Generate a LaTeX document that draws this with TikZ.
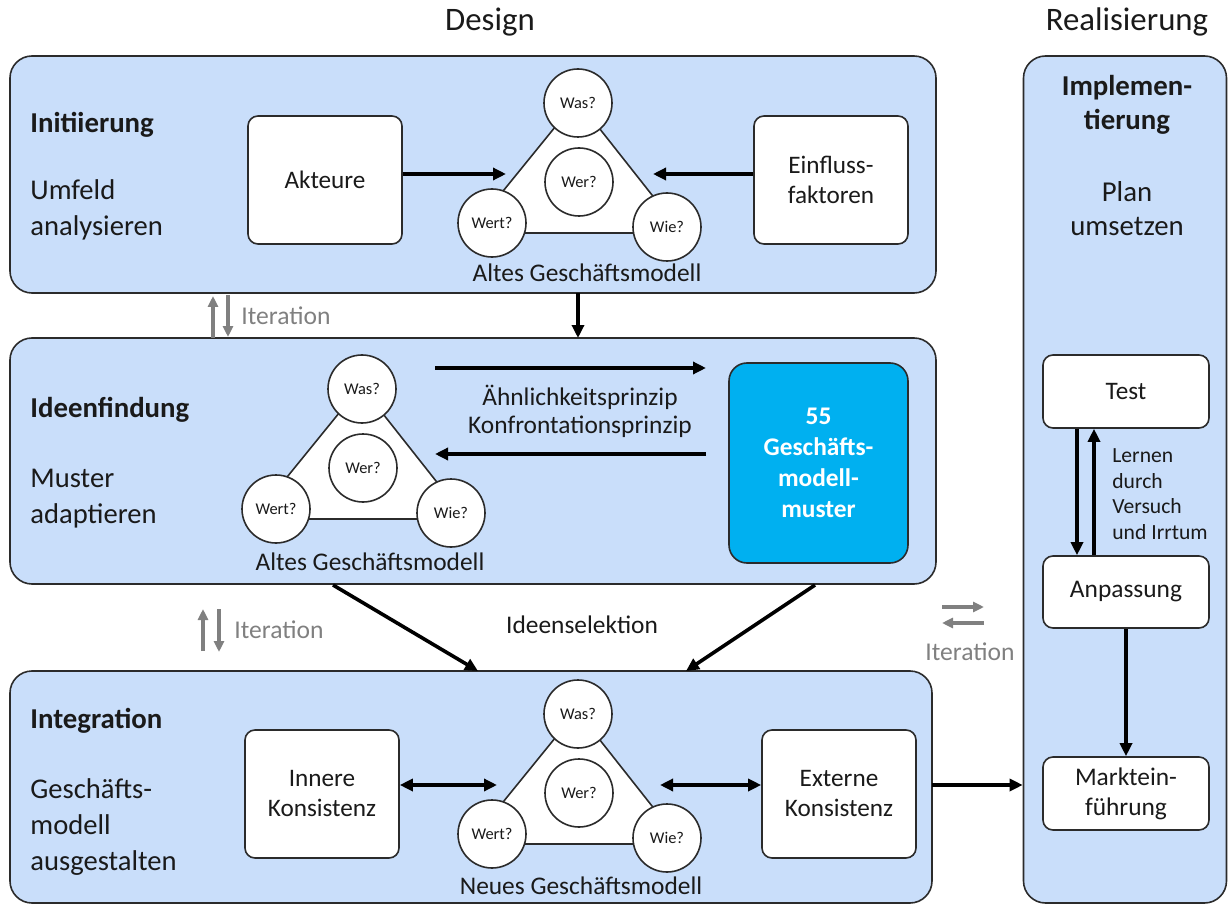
\documentclass[tikz,border=0pt]{standalone}
\usepackage{fontspec}
\setmainfont{Carlito}
\usetikzlibrary{arrows.meta,calc}
\definecolor{bgblue}{HTML}{C9DEFA}
\definecolor{cyanbox}{HTML}{00B0F0}
\definecolor{itgray}{HTML}{808080}
\definecolor{txt}{HTML}{1A1A1A}
\definecolor{edge}{HTML}{2B2B2B}
\tikzset{
  phase/.style={draw=edge, line width=0.8pt, fill=bgblue, rounded corners=11pt, inner sep=0pt},
  wbox/.style={draw=edge, line width=0.8pt, fill=white, rounded corners=5pt, align=center,
    text=txt, font=\fontsize{12.6}{15}\selectfont, inner sep=0pt},
  qcirc/.style={circle, draw=edge, line width=0.8pt, fill=white, minimum size=34pt, inner sep=0pt,
    text=txt, font=\fontsize{8.2}{9}\selectfont},
  triline/.style={draw=edge, line width=0.8pt, fill=white, line join=round},
  head/.style={anchor=west, inner sep=0pt, text=txt, font=\bfseries\fontsize{14.4}{18}\selectfont},
  side/.style={anchor=west, inner sep=0pt, align=left, text=txt, font=\fontsize{14.3}{18}\selectfont},
  caption/.style={text=txt, font=\fontsize{12.7}{14}\selectfont},
  lbl/.style={text=txt, align=center, font=\fontsize{12.7}{14}\selectfont},
  arr/.style={-{Triangle[length=6.5pt,width=6pt]}, line width=1.8pt, draw=black},
  darr/.style={{Triangle[length=6.5pt,width=6pt]}-{Triangle[length=6.5pt,width=6pt]}, line width=1.8pt, draw=black},
  garr/.style={-{Triangle[length=5.5pt,width=5pt]}, line width=1.7pt, draw=itgray},
  itlbl/.style={text=itgray, inner sep=0pt, font=\fontsize{12.8}{14}\selectfont},
  title/.style={text=txt, font=\fontsize{16.4}{19}\selectfont}
}
\newcommand\bmtri[3]{%
  \begin{scope}[shift={(#2,#3)}]
    \draw[triline] (-2,-82) -- (-110,51) -- (103,51) -- cycle;
    \node[qcirc] (#1was) at (-1,-79) {Was?};
    \node[qcirc] (#1wer) at (0,0) {Wer?};
    \node[qcirc] (#1wert) at (-87,41) {Wert?};
    \node[qcirc] (#1wie) at (88,45) {Wie?};
  \end{scope}}
\begin{document}
\begin{tikzpicture}[x=0.5pt,y=-0.5pt]
\useasboundingbox (0,0) rectangle (1228,904);

% titles
\node[title] (tdesign) at (490,22) {Design};
\node[title] (treal) at (1127,22) {Realisierung};

% phase boxes
\node[phase, minimum width=463pt, minimum height=118.5pt] (p1) at (473,174.5) {};
\node[phase, minimum width=463pt, minimum height=123pt] (p2) at (473,461) {};
\node[phase, minimum width=461pt, minimum height=116pt] (p3) at (471,787) {};
\node[phase, minimum width=101.5pt, minimum height=423.5pt] (pr) at (1125,479.5) {};

% ---------- Initiierung ----------
\node[head] (h1) at (30,125) {Initiierung};
\node[side] (s1) at (30,210) {Umfeld\\analysieren};
\node[wbox, minimum width=77pt, minimum height=64pt] (akt) at (325,180) {Akteure};
\node[wbox, minimum width=77pt, minimum height=64pt] (einf) at (831,180) {Einfluss-\\faktoren};
\bmtri{a}{579}{182}
\node[caption] (cap1) at (587,273) {Altes Geschäftsmodell};
\coordinate (t1l) at (506,174);
\coordinate (t1r) at (653,174);
\draw[arr] (akt.east |- t1l) -- (t1l);
\draw[arr] (einf.west |- t1r) -- (t1r);

% p1 -> p2
\coordinate (d1a) at (578,293);
\coordinate (d1b) at (578,338);
\draw[arr] (d1a) -- (d1b);

% iteration 1
\coordinate (i1ua) at (213,338);
\coordinate (i1ub) at (213,296);
\coordinate (i1da) at (228,295);
\coordinate (i1db) at (228,337);
\draw[garr] (i1ua) -- (i1ub);
\draw[garr] (i1da) -- (i1db);
\node[itlbl, anchor=west] (it1) at (241,316) {Iteration};

% ---------- Ideenfindung ----------
\node[head] (h2) at (30,410) {Ideenfindung};
\node[side] (s2) at (30,499) {Muster\\adaptieren};
\bmtri{b}{363}{468}
\node[caption] (cap2) at (370,562) {Altes Geschäftsmodell};
\node[wbox, fill=cyanbox, text=white, font=\bfseries\fontsize{12.7}{15.5}\selectfont,
  rounded corners=9pt, minimum width=89.5pt, minimum height=100pt] (muster) at (818.5,463)
  {55\\Geschäfts-\\modell-\\muster};
\coordinate (m1a) at (435,368);
\coordinate (m1b) at (706,368);
\coordinate (m2a) at (706,454);
\coordinate (m2b) at (435,454);
\draw[arr] (m1a) -- (m1b);
\draw[arr] (m2a) -- (m2b);
\node[lbl] (prinz) at (580,411) {Ähnlichkeitsprinzip\\Konfrontationsprinzip};

% p2 -> p3
\coordinate (s2a) at (333,585);
\coordinate (s2b) at (478,671);
\coordinate (s3a) at (815,585);
\coordinate (s3b) at (686,671);
\draw[arr] (s2a) -- (s2b);
\draw[arr] (s3a) -- (s3b);
\node[lbl] (sel) at (582,625) {Ideenselektion};

% iteration 2
\coordinate (i2ua) at (203,651);
\coordinate (i2ub) at (203,609);
\coordinate (i2da) at (219,609);
\coordinate (i2db) at (219,652);
\draw[garr] (i2ua) -- (i2ub);
\draw[garr] (i2da) -- (i2db);
\node[itlbl, anchor=west] (it2) at (234,630) {Iteration};

% iteration 3
\coordinate (i3ra) at (942,607);
\coordinate (i3rb) at (984,607);
\coordinate (i3la) at (984,623);
\coordinate (i3lb) at (942,623);
\draw[garr] (i3ra) -- (i3rb);
\draw[garr] (i3la) -- (i3lb);
\node[itlbl] (it3) at (970,652) {Iteration};

% ---------- Integration ----------
\node[head] (h3) at (30,721) {Integration};
\node[side] (s3) at (30,827) {Geschäfts-\\modell\\ausgestalten};
\node[wbox, minimum width=77pt, minimum height=64pt] (inn) at (322,794) {Innere\\Konsistenz};
\node[wbox, minimum width=77pt, minimum height=64pt] (ext) at (839,794) {Externe\\Konsistenz};
\bmtri{c}{579}{793}
\node[caption] (cap3) at (581,886) {Neues Geschäftsmodell};
\coordinate (t3l) at (497,785);
\coordinate (t3r) at (660,785);
\draw[darr] (inn.east |- t3l) -- (t3l);
\draw[darr] (t3r) -- (ext.west |- t3r);

% p3 -> realisierung
\coordinate (r1a) at (932,785);
\draw[arr] (r1a) -- (pr.west |- r1a);

% ---------- Realisierung ----------
\node[text=txt, align=center, font=\bfseries\fontsize{14.4}{17}\selectfont] (impl) at (1127,105) {Implemen-\\tierung};
\node[text=txt, align=center, font=\fontsize{14.4}{17}\selectfont] (plan) at (1127,209) {Plan\\umsetzen};
\node[wbox, minimum width=83pt, minimum height=36.5pt] (test) at (1126,391.5) {Test};
\node[wbox, font=\fontsize{12.7}{15}\selectfont, minimum width=83pt, minimum height=36pt] (anp) at (1126,592) {Anpassung};
\node[wbox, font=\fontsize{12.7}{15}\selectfont, minimum width=83pt, minimum height=36.5pt] (markt) at (1126,793.5) {Marktein-\\führung};
\coordinate (tx1) at (1077,0);
\coordinate (tx2) at (1094,0);
\draw[arr] (test.south -| tx1) -- (anp.north -| tx1);
\draw[arr] (anp.north -| tx2) -- (test.south -| tx2);
\draw[arr] (anp.south) -- (markt.north);
\node[text=txt, anchor=west, inner sep=0pt, align=left, font=\fontsize{10.8}{12.8}\selectfont] (lern) at (1112,494) {Lernen\\durch\\Versuch\\und Irrtum};
\end{tikzpicture}
\end{document}
